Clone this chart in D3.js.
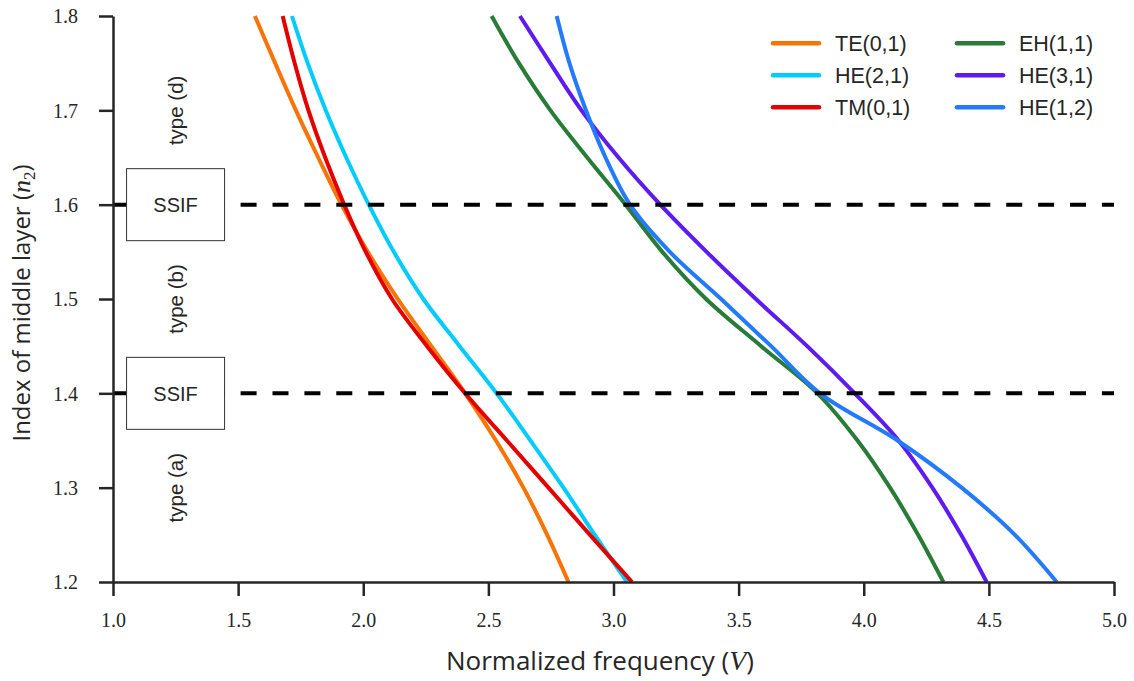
<!DOCTYPE html>
<html>
<head>
<meta charset="utf-8">
<script src="https://cdn.jsdelivr.net/npm/d3@7"></script>
<style>
  html, body { margin: 0; padding: 0; background: #ffffff; }
  svg { display: block; }
</style>
</head>
<body>
<svg id="chart" width="1134" height="681"></svg>
<script>
// ---------------- DATA ----------------
const nLevels = [1.8, 1.75, 1.7, 1.65, 1.6, 1.55, 1.5, 1.45, 1.4, 1.35, 1.3, 1.25, 1.2];
const seriesNames = ["TE(0,1)", "HE(2,1)", "TM(0,1)", "EH(1,1)", "HE(3,1)", "HE(1,2)"];
const seriesColors = ["#f97306", "#02ccfe", "#e50000", "#287c37", "#5d1bf0", "#247afd"];
const vTE01 = [1.567, 1.648, 1.731, 1.820, 1.913, 2.018, 2.138, 2.272, 2.407, 2.530, 2.640, 2.735, 2.820];
const vHE21 = [1.715, 1.778, 1.850, 1.932, 2.022, 2.122, 2.240, 2.385, 2.533, 2.668, 2.800, 2.925, 3.054];
const vTM01 = [1.678, 1.726, 1.781, 1.848, 1.924, 2.010, 2.115, 2.255, 2.407, 2.574, 2.740, 2.906, 3.074];
const vEH11 = [2.513, 2.622, 2.748, 2.895, 3.048, 3.195, 3.370, 3.590, 3.815, 3.975, 4.105, 4.217, 4.318];
const vHE31 = [2.626, 2.747, 2.872, 3.020, 3.187, 3.372, 3.569, 3.774, 3.964, 4.139, 4.274, 4.389, 4.491];
const vHE12 = [2.773, 2.824, 2.890, 2.968, 3.066, 3.225, 3.430, 3.630, 3.825, 4.135, 4.391, 4.604, 4.771];
const seriesValues = [vTE01, vHE21, vTM01, vEH11, vHE31, vHE12];
const xTicks = [1.0, 1.5, 2.0, 2.5, 3.0, 3.5, 4.0, 4.5, 5.0];
const yTicks = [1.2, 1.3, 1.4, 1.5, 1.6, 1.7, 1.8];
const ssifLevels = [1.4, 1.6];
const typeLabels = [{n: 1.7, t: "type (d)"}, {n: 1.5, t: "type (b)"}, {n: 1.3, t: "type (a)"}];
const annotV = 1.25;

// ---------------- CHART ----------------
const svg = d3.select("#chart");
const x = d3.scaleLinear().domain([1, 5]).range([113, 1114]);
const y = d3.scaleLinear().domain([1.2, 1.8]).range([582, 16]);
const axisColor = "#262626";

svg.append("defs").append("clipPath").attr("id", "plotclip")
  .append("rect").attr("x", x(1)).attr("y", y(1.8) - 2).attr("width", x(5) - x(1)).attr("height", y(1.2) - y(1.8) + 2);

// curves
const line = d3.line().x(d => x(d.v)).y(d => y(d.n)).curve(d3.curveCatmullRom.alpha(0.5));
const gCurves = svg.append("g").attr("clip-path", "url(#plotclip)");
seriesValues.forEach((vals, i) => {
  const pts = nLevels.map((n, k) => ({n: n, v: vals[k]}));
  gCurves.append("path").datum(pts)
    .attr("d", line)
    .attr("fill", "none")
    .attr("stroke", seriesColors[i])
    .attr("stroke-width", 4);
});

// dashed SSIF lines
svg.append("g").selectAll("line").data(ssifLevels).join("line")
  .attr("x1", x(1)).attr("x2", x(5))
  .attr("y1", d => y(d)).attr("y2", d => y(d))
  .attr("stroke", "#000").attr("stroke-width", 4)
  .attr("stroke-dasharray", "16,15.9");

// SSIF boxes
const boxW = 98, boxH = 72;
const gBox = svg.append("g").selectAll("g").data(ssifLevels).join("g")
  .attr("transform", d => `translate(${x(annotV)},${y(d)})`);
gBox.append("rect")
  .attr("x", -boxW / 2).attr("y", -boxH / 2).attr("width", boxW).attr("height", boxH)
  .attr("fill", "#fff").attr("stroke", "#333").attr("stroke-width", 1);
gBox.append("text").text("SSIF")
  .attr("text-anchor", "middle").attr("dy", "0.36em")
  .attr("font-family", "'Liberation Sans', Arial, sans-serif")
  .attr("font-size", 20).attr("fill", "#262626");

// type labels (rotated)
svg.append("g").selectAll("text").data(typeLabels).join("text")
  .attr("transform", d => `translate(${x(annotV) + 7},${y(d.n)}) rotate(-90)`)
  .attr("text-anchor", "middle")
  .attr("font-family", "'Liberation Sans', Arial, sans-serif")
  .attr("font-size", 20.5).attr("fill", "#262626")
  .text(d => d.t);

// axes
const xAxis = d3.axisBottom(x).tickValues(xTicks).tickFormat(d3.format(".1f"))
  .tickSize(14).tickSizeOuter(0).tickPadding(17);
const yAxis = d3.axisLeft(y).tickValues(yTicks).tickFormat(d3.format(".1f"))
  .tickSize(14).tickSizeOuter(0).tickPadding(21);

const gx = svg.append("g").attr("transform", `translate(0,${y(1.2)})`).call(xAxis);
const gy = svg.append("g").attr("transform", `translate(${x(1)},0)`).call(yAxis);
[gx, gy].forEach(g => {
  g.select(".domain").attr("stroke", axisColor).attr("stroke-width", 2.5);
  g.selectAll(".tick line").attr("stroke", axisColor).attr("stroke-width", 2.5);
  g.selectAll(".tick text")
    .attr("font-family", "'Liberation Serif', 'Times New Roman', serif")
    .attr("font-size", 20).attr("fill", "#262626");
});
gy.selectAll(".tick text").attr("dy", "0.34em");

// axis labels
const xl = svg.append("text")
  .attr("x", 600).attr("y", 670)
  .attr("text-anchor", "middle")
  .attr("font-family", "'Open Sans', 'Liberation Sans', sans-serif")
  .attr("font-size", 26).attr("fill", "#262626");
xl.append("tspan").text("Normalized frequency (");
xl.append("tspan").text("V").attr("font-family", "'Liberation Serif', serif").attr("font-style", "italic").attr("font-size", 28);
xl.append("tspan").text(")");

const yl = svg.append("text")
  .attr("transform", `translate(30,${(y(1.2) + y(1.8)) / 2 + 4}) rotate(-90)`)
  .attr("text-anchor", "middle")
  .attr("font-family", "'Open Sans', 'Liberation Sans', sans-serif")
  .attr("font-size", 24).attr("fill", "#262626");
yl.append("tspan").text("Index of middle layer (");
yl.append("tspan").text("n").attr("font-family", "'Liberation Serif', serif").attr("font-style", "italic").attr("font-size", 26);
yl.append("tspan").text("2").attr("font-family", "'Liberation Serif', serif").attr("font-size", 17).attr("dy", 5);
yl.append("tspan").text(")").attr("dy", -5);

// legend
const legendCols = [773, 957];
const legendRows = [43.3, 75.3, 107.3];
const gLeg = svg.append("g");
seriesNames.forEach((name, i) => {
  const col = Math.floor(i / 3), row = i % 3;
  const lx = legendCols[col], ly = legendRows[row];
  gLeg.append("line")
    .attr("x1", lx).attr("x2", lx + 46).attr("y1", ly).attr("y2", ly)
    .attr("stroke", seriesColors[i]).attr("stroke-width", 4.5).attr("stroke-linecap", "round");
  gLeg.append("text")
    .attr("x", lx + 62).attr("y", ly).attr("dy", "0.36em")
    .attr("font-family", "'Liberation Sans', Arial, sans-serif")
    .attr("font-size", 21.5).attr("fill", "#262626")
    .text(name);
});
</script>
</body>
</html>
